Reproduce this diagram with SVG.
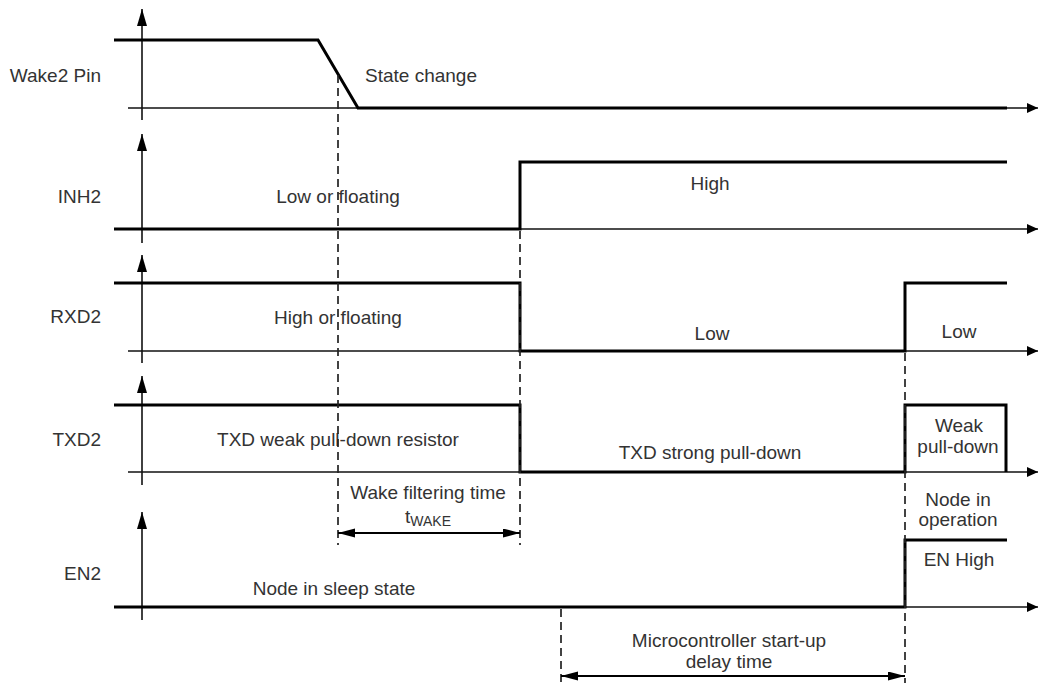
<svg xmlns="http://www.w3.org/2000/svg" width="1038" height="686" viewBox="0 0 1038 686">
<style>
  text { font-family: "Liberation Sans", Arial, sans-serif; font-size: 19px; fill: #333; }
  .lbl { text-anchor: end; }
  .mid { text-anchor: middle; }
  .base { stroke: #111; stroke-width: 1.6; fill: none; marker-end: url(#ah); }
  .yax { stroke: #111; stroke-width: 1.6; fill: none; marker-end: url(#av); }
  .wave { stroke: #000; stroke-width: 3; fill: none; stroke-linejoin: miter; }
  .dash { stroke: #222; stroke-width: 1.7; stroke-dasharray: 8 5; fill: none; }
  .dim { stroke: #000; stroke-width: 1.8; fill: none; marker-start: url(#ad); marker-end: url(#ad); }
  .sub { font-size: 14px; }
</style>
<defs>
  <marker id="ah" markerUnits="userSpaceOnUse" markerWidth="12" markerHeight="12" refX="11" refY="5" orient="auto">
    <path d="M0,0 L11,5 L0,10 z" fill="#000"/>
  </marker>
  <marker id="av" markerUnits="userSpaceOnUse" markerWidth="18" markerHeight="12" refX="17" refY="5" orient="auto">
    <path d="M0,0 L17,5 L0,10 z" fill="#000"/>
  </marker>
  <marker id="ad" markerUnits="userSpaceOnUse" markerWidth="18" markerHeight="10" refX="17" refY="4.5" orient="auto-start-reverse">
    <path d="M0,0 L17,4.5 L0,9 z" fill="#000"/>
  </marker>
</defs>
<rect width="1038" height="686" fill="#fff"/>

<g id="wake2">
  <text class="lbl" x="101" y="82">Wake2 Pin</text>
  <line class="yax" x1="142" y1="120" x2="142" y2="9"/>
  <line class="base" x1="128" y1="108" x2="1038" y2="108"/>
  <polyline class="wave" points="114,40 318,40 358,108 1007,108"/>
  <text x="365" y="82">State change</text>
</g>

<g id="inh2">
  <text class="lbl" x="101" y="203">INH2</text>
  <line class="yax" x1="142" y1="243" x2="142" y2="134"/>
  <line class="base" x1="128" y1="229" x2="1038" y2="229"/>
  <polyline class="wave" points="114,229 520,229 520,162 1007,162"/>
  <text class="mid" x="338" y="203">Low or floating</text>
  <text class="mid" x="710" y="190">High</text>
</g>

<g id="rxd2">
  <text class="lbl" x="101" y="323">RXD2</text>
  <line class="yax" x1="142" y1="363" x2="142" y2="255"/>
  <line class="base" x1="128" y1="351" x2="1038" y2="351"/>
  <polyline class="wave" points="114,283 520,283 520,351 905,351 905,283 1007,283"/>
  <text class="mid" x="338" y="324">High or floating</text>
  <text class="mid" x="712" y="340">Low</text>
  <text class="mid" x="959" y="338">Low</text>
</g>

<g id="txd2">
  <text class="lbl" x="101" y="446">TXD2</text>
  <line class="yax" x1="142" y1="485" x2="142" y2="376"/>
  <line class="base" x1="128" y1="472" x2="1038" y2="472"/>
  <polyline class="wave" points="114,405 520,405 520,472 905,472 905,405 1006,405 1006,472"/>
  <text class="mid" x="338" y="446">TXD weak pull-down resistor</text>
  <text class="mid" x="710" y="459">TXD strong pull-down</text>
  <text class="mid" x="959" y="432">Weak</text>
  <text class="mid" x="958" y="453">pull-down</text>
</g>

<g id="en2">
  <text class="lbl" x="101" y="580">EN2</text>
  <line class="yax" x1="142" y1="620" x2="142" y2="512"/>
  <line class="base" x1="128" y1="607" x2="1038" y2="607"/>
  <polyline class="wave" points="114,607 905,607 905,540 1007,540"/>
  <text class="mid" x="334" y="595">Node in sleep state</text>
  <text class="mid" x="959" y="566">EN High</text>
  <text class="mid" x="958" y="506">Node in</text>
  <text class="mid" x="958" y="526">operation</text>
</g>

<g id="connectors">
  <line class="dash" x1="338" y1="75" x2="338" y2="545"/>
  <line class="dash" x1="520" y1="231" x2="520" y2="545"/>
  <line class="dash" x1="905" y1="353" x2="905" y2="683"/>
  <line class="dash" x1="561" y1="609" x2="561" y2="686"/>
  <line class="dim" x1="338" y1="533" x2="520" y2="533"/>
  <line class="dim" x1="561" y1="676" x2="905" y2="676"/>
</g>

<g id="timing-labels">
  <text class="mid" x="428" y="499">Wake filtering time</text>
  <text class="mid" x="428" y="523">t<tspan class="sub" dy="3">WAKE</tspan></text>
  <text class="mid" x="729" y="647">Microcontroller start-up</text>
  <text class="mid" x="729" y="668">delay time</text>
</g>
</svg>
